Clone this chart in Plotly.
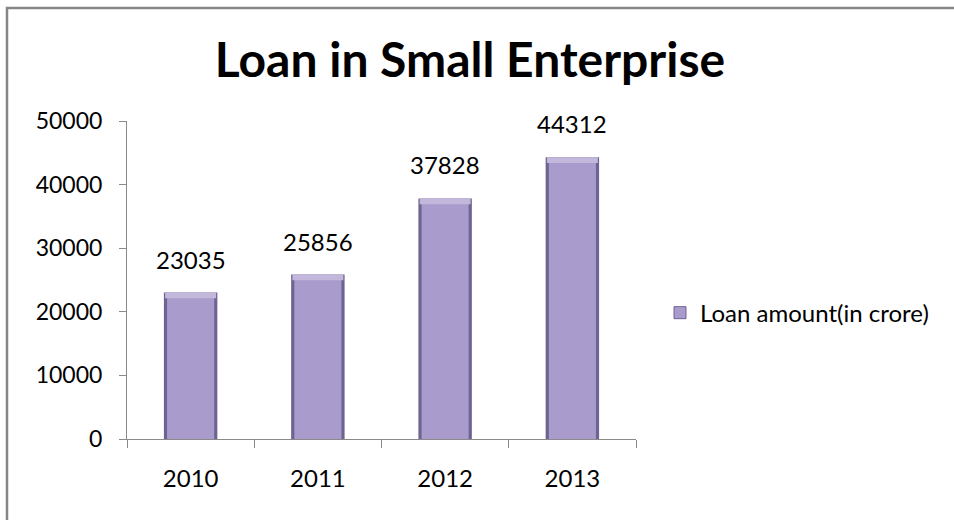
import plotly.graph_objects as go

# Loan data
years = ["2010", "2011", "2012", "2013"]
loan_amount = [23035, 25856, 37828, 44312]
series_name = "Loan amount(in crore)"
chart_title = "Loan in Small Enterprise"
y_ticks = [0, 10000, 20000, 30000, 40000, 50000]

FONT = "Lato"
bevel = 900  # height of the lighter cap on each bar, in data units

fig = go.Figure()

# dark outer body of each bar
fig.add_trace(go.Bar(
    x=years, y=loan_amount, width=0.42,
    marker=dict(color="#6f6392", line=dict(width=0)),
    showlegend=False, hoverinfo="skip",
))
# lighter inner face
fig.add_trace(go.Bar(
    x=years, y=[v - bevel * 0.5 for v in loan_amount], width=0.37,
    marker=dict(color="#a99bcb", line=dict(width=0)),
    showlegend=False, hoverinfo="skip",
))
# bevelled top cap
fig.add_trace(go.Bar(
    x=years, y=[bevel] * len(loan_amount),
    base=[v - bevel for v in loan_amount], width=0.40,
    marker=dict(color="#c3b8dc", line=dict(width=0)),
    showlegend=False, hoverinfo="skip",
))
# legend entry
fig.add_trace(go.Bar(
    x=[None], y=[None], name=series_name,
    marker=dict(color="#a99bcb", line=dict(color="#6f6392", width=1)),
))

# value labels above each bar (category axis positions by index)
annotations = [
    dict(x=i, y=v, text=str(v), xref="x", yref="y", showarrow=False,
         yanchor="bottom", yshift=17,
         font=dict(family=FONT, size=24, color="#000"))
    for i, v in enumerate(loan_amount)
]

fig.update_layout(
    width=954, height=520,
    margin=dict(l=127, r=318, t=121, b=81, autoexpand=False),
    paper_bgcolor="white", plot_bgcolor="white",
    barmode="overlay",
    title=dict(text="<b>" + chart_title + "</b>", x=470 / 954, xanchor="center",
               y=1 - 60 / 520, yanchor="middle",
               font=dict(family=FONT, size=48, color="#000")),
    legend=dict(x=(660 - 127) / 509, y=0.396, xanchor="left", yanchor="middle",
                font=dict(family=FONT, size=24, color="#000"),
                bgcolor="rgba(0,0,0,0)", itemwidth=30),
    xaxis=dict(type="category", showline=True, linecolor="#8a8a8a", linewidth=1,
               ticks="outside", tickson="boundaries", ticklen=8, tickcolor="#8a8a8a",
               tickfont=dict(family=FONT, size=24, color="#000"),
               ticklabelstandoff=18,
               showgrid=False, zeroline=False, range=[-0.5, 3.5]),
    yaxis=dict(range=[0, 50000], tickvals=y_ticks, ticktext=[str(t) for t in y_ticks],
               showline=True, linecolor="#8a8a8a",
               linewidth=1, ticks="outside", ticklen=7, tickcolor="#8a8a8a",
               tickfont=dict(family=FONT, size=23, color="#000"),
               ticklabelstandoff=12,
               showgrid=False, zeroline=False),
    font=dict(family=FONT),
    annotations=annotations,
    shapes=[dict(type="rect", xref="paper", yref="paper",
                 x0=(7 - 127) / 509, x1=(990 - 127) / 509,
                 y0=(439 - 540) / 318, y1=(439 - 8) / 318,
                 line=dict(color="#868686", width=2.5), fillcolor="rgba(0,0,0,0)",
                 layer="below")],
)

fig.write_html("out.html")
